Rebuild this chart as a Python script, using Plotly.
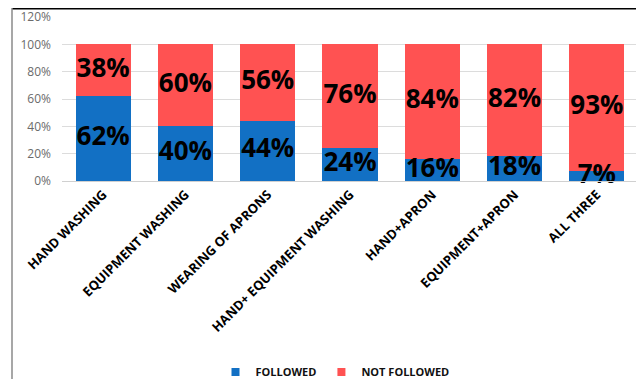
import plotly.graph_objects as go

categories = ["HAND WASHING", "EQUIPMENT WASHING", "WEARING OF APRONS",
              "HAND+ EQUIPMENT WASHING", "HAND+APRON", "EQUIPMENT+APRON", "ALL THREE"]
followed = [62, 40, 44, 24, 16, 18, 7]
not_followed = [38, 60, 56, 76, 84, 82, 93]
y_ticks = [0, 20, 40, 60, 80, 100, 120]
y_tick_labels = ["0%", "20%", "40%", "60%", "80%", "100%", "120%"]

BLUE = "#1270C4"
RED = "#FF5252"

fig = go.Figure()
fig.add_trace(go.Bar(x=categories, y=followed, name="<b>FOLLOWED</b>", marker_color=BLUE,
                     marker_line_width=0, hoverinfo="skip", showlegend=False))
fig.add_trace(go.Bar(x=categories, y=not_followed, name="<b>NOT FOLLOWED</b>", marker_color=RED,
                     marker_line_width=0, hoverinfo="skip", showlegend=False))
fig.add_trace(go.Scatter(x=[None], y=[None], mode="markers", name="<b>FOLLOWED</b>",
                         marker=dict(symbol="square", size=8, color=BLUE)))
fig.add_trace(go.Scatter(x=[None], y=[None], mode="markers", name="<b>NOT FOLLOWED</b>",
                         marker=dict(symbol="square", size=8, color=RED)))

lab_font = dict(family="Open Sans", size=26, color="black")
fig.add_trace(go.Scatter(x=categories, y=[f / 2 for f in followed], mode="text",
                         text=[f"<b>{v}%</b>" for v in followed], textfont=lab_font,
                         showlegend=False, hoverinfo="skip", cliponaxis=False))
fig.add_trace(go.Scatter(x=categories, y=[f + n / 2 for f, n in zip(followed, not_followed)],
                         mode="text", text=[f"<b>{v}%</b>" for v in not_followed],
                         textfont=lab_font, showlegend=False, hoverinfo="skip", cliponaxis=False))

OFF = 8  # default page body margin
W, H = 644 - OFF, 379 - OFF
L, T = 62 - OFF, 17 - OFF
R = W - (638 - OFF)
B = H - (181 - OFF)
pw, ph = W - L - R, H - T - B

def px(x):
    return (x - OFF - L) / pw

def py(y):
    return (H - B - (y - OFF)) / ph

fig.add_shape(type="line", xref="paper", yref="paper", x0=px(12), x1=px(644), y0=py(8.5), y1=py(8.5),
              line=dict(color="black", width=2))
fig.add_shape(type="line", xref="paper", yref="paper", x0=px(12), x1=px(12), y0=py(8), y1=py(379),
              line=dict(color="#8a8a8a", width=1.5))
fig.add_shape(type="line", xref="paper", yref="paper", x0=px(642), x1=px(642), y0=py(8), y1=py(379),
              line=dict(color="black", width=2))

fig.update_layout(
    width=W, height=H,
    margin=dict(l=L, r=R, t=T, b=B, autoexpand=False),
    barmode="stack", bargap=0.33,
    plot_bgcolor="white", paper_bgcolor="white",
    font=dict(family="Open Sans", color="black"),
    legend=dict(orientation="h", x=px(335), xanchor="center", y=py(372), yanchor="middle",
                font=dict(size=11, color="#111"), traceorder="normal", itemwidth=30,
                tracegroupgap=0),
    showlegend=True,
)
fig.update_yaxes(range=[0, 120], tickvals=y_ticks, ticktext=y_tick_labels, automargin=False,
                 showgrid=True, gridcolor="#DCDCDC", gridwidth=1, zeroline=False,
                 tickfont=dict(size=12, color="#6b6b6b"), ticks="", showline=False,
                 ticklabelstandoff=10)
fig.update_xaxes(tickangle=-45, tickfont=dict(size=13, color="black", family="Open Sans"),
                 tickprefix="<b>", ticksuffix="</b>", showline=True, linecolor="#D0D0D0",
                 ticks="", automargin=False)

fig.write_html("out.html")
